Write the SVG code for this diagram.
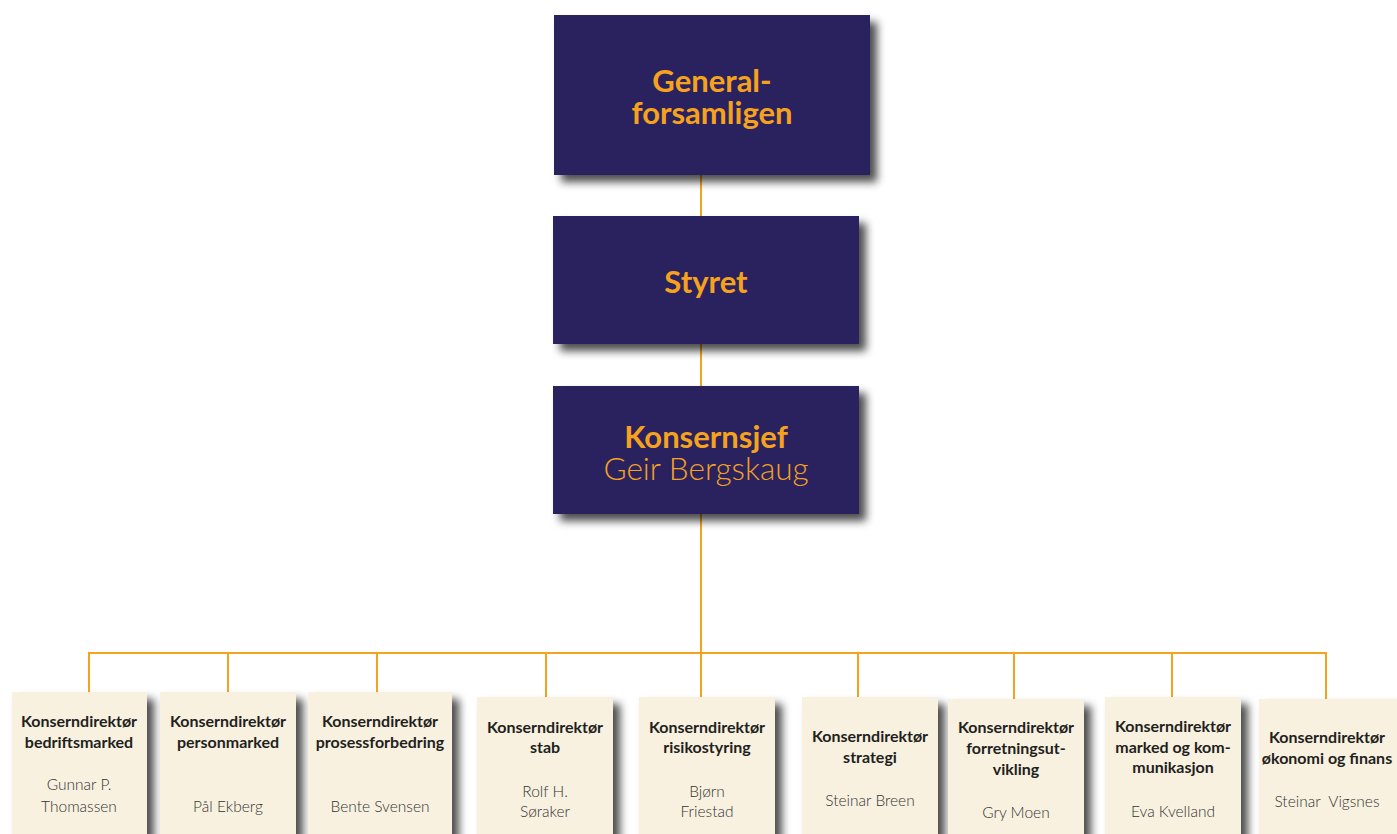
<svg xmlns="http://www.w3.org/2000/svg" width="1397" height="834" viewBox="0 0 1397 834">
<defs>
<filter id="sh" x="-20%" y="-20%" width="150%" height="150%">
<feDropShadow dx="7" dy="7" stdDeviation="4" flood-color="#000" flood-opacity="0.7"/>
</filter>
<style>
.top{fill:#29245f;filter:url(#sh)}
.low{fill:#f8f1e0;filter:url(#sh)}
.ht{font-family:Lato,"Open Sans",sans-serif;font-weight:700;font-size:31px;fill:#f6a21d;text-anchor:middle}
.hl{font-family:Lato,"Open Sans",sans-serif;font-weight:300;font-size:31.5px;fill:#f6a21d;text-anchor:middle}
.t{font-family:Lato,"Open Sans",sans-serif;font-weight:700;font-size:16px;fill:#231f20;text-anchor:middle}
.n{font-family:Lato,"Open Sans",sans-serif;font-weight:300;font-size:15.5px;fill:#333;text-anchor:middle}
.c{stroke:#f6a21d;stroke-width:2;fill:none}
</style>
</defs>
<rect width="1397" height="834" fill="#fff"/>
<g id="connectors">
<path class="c" d="M701 175V216M701 344V386M701 514V653M89 692V653H1326V699M228 653V692M377 653V692M546 653V697M701 653V697M858 653V697M1014 653V699M1172 653V697"/>
</g>
<g id="generalforsamlingen">
<rect class="top" x="554" y="15" width="316" height="160"/>
<text class="ht" x="712" y="92">General-</text>
<text class="ht" x="712" y="124">forsamligen</text>
</g>
<g id="styret">
<rect class="top" x="553" y="216" width="306" height="128"/>
<text class="ht" x="706" y="293">Styret</text>
</g>
<g id="konsernsjef">
<rect class="top" x="553" y="386" width="306" height="128"/>
<text class="ht" x="706" y="448">Konsernsjef</text>
<text class="hl" x="706" y="480">Geir Bergskaug</text>
</g>
<g id="bedriftsmarked">
<rect class="low" x="12" y="692" width="135" height="150"/>
<text class="t" x="79" y="727">Konserndirektør</text>
<text class="t" x="79" y="748">bedriftsmarked</text>
<text class="n" x="79" y="790">Gunnar P.</text>
<text class="n" x="79" y="812">Thomassen</text>
</g>
<g id="personmarked">
<rect class="low" x="160" y="692" width="136" height="150"/>
<text class="t" x="228" y="727">Konserndirektør</text>
<text class="t" x="228" y="748">personmarked</text>
<text class="n" x="228" y="812">Pål Ekberg</text>
</g>
<g id="prosessforbedring">
<rect class="low" x="308" y="692" width="144" height="150"/>
<text class="t" x="380" y="727">Konserndirektør</text>
<text class="t" x="380" y="748">prosessforbedring</text>
<text class="n" x="380" y="812">Bente Svensen</text>
</g>
<g id="stab">
<rect class="low" x="477" y="697" width="136" height="150"/>
<text class="t" x="545" y="733">Konserndirektør</text>
<text class="t" x="545" y="753">stab</text>
<text class="n" x="545" y="797">Rolf H.</text>
<text class="n" x="545" y="817">Søraker</text>
</g>
<g id="risikostyring">
<rect class="low" x="639" y="697" width="136" height="150"/>
<text class="t" x="707" y="733">Konserndirektør</text>
<text class="t" x="707" y="753">risikostyring</text>
<text class="n" x="707" y="797">Bjørn</text>
<text class="n" x="707" y="817">Friestad</text>
</g>
<g id="strategi">
<rect class="low" x="802" y="697" width="136" height="150"/>
<text class="t" x="870" y="742">Konserndirektør</text>
<text class="t" x="870" y="763">strategi</text>
<text class="n" x="870" y="806">Steinar Breen</text>
</g>
<g id="forretningsutvikling">
<rect class="low" x="948" y="699" width="136" height="150"/>
<text class="t" x="1016" y="733">Konserndirektør</text>
<text class="t" x="1016" y="754">forretningsut-</text>
<text class="t" x="1016" y="775">vikling</text>
<text class="n" x="1016" y="818">Gry Moen</text>
</g>
<g id="markedkommunikasjon">
<rect class="low" x="1105" y="697" width="136" height="150"/>
<text class="t" x="1173" y="732">Konserndirektør</text>
<text class="t" x="1173" y="753">marked og kom-</text>
<text class="t" x="1173" y="773">munikasjon</text>
<text class="n" x="1173" y="817">Eva Kvelland</text>
</g>
<g id="okonomifinans">
<rect class="low" x="1259" y="699" width="145" height="150"/>
<text class="t" x="1327" y="743">Konserndirektør</text>
<text class="t" x="1327" y="764">økonomi og finans</text>
<text class="n" x="1327" y="807" xml:space="preserve">Steinar  Vigsnes</text>
</g>
</svg>
